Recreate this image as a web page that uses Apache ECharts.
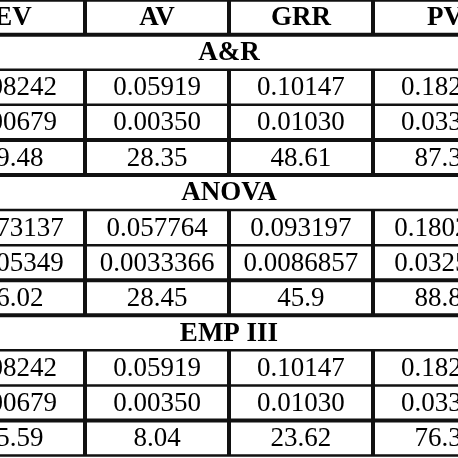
<!DOCTYPE html>
<html><head><meta charset="utf-8">
<script src="https://cdn.jsdelivr.net/npm/echarts@6/dist/echarts.min.js"></script>
<style>html,body{margin:0;padding:0;background:#fff}#c{width:458px;height:458px}</style>
</head><body><div id="c"></div>
<script>
// table contents
var headers = ['EV', 'AV', 'GRR', 'PV'];
var sections = ['A&R', 'ANOVA', 'EMP III'];
var arRows = [
    ['0.08242', '0.05919', '0.10147', '0.18257'],
    ['0.00679', '0.00350', '0.01030', '0.03356'],
    ['49.48', '28.35', '48.61', '87.38']
];
var anovaRows = [
    ['0.073137', '0.057764', '0.093197', '0.180215'],
    ['0.005349', '0.0033366', '0.0086857', '0.032512'],
    ['46.02', '28.45', '45.9', '88.80']
];
var empRows = [
    ['0.08242', '0.05919', '0.10147', '0.18257'],
    ['0.00679', '0.00350', '0.01030', '0.03356'],
    ['65.59', '8.04', '23.62', '76.38']
];
// row boundaries (between rows) and whether the rule is heavy
var hRules = [-0.5, 0.5, 1.5, 2.5, 3.5, 4.5, 5.5, 6.5, 7.5, 8.5, 9.5, 10.5, 11.5, 12.5];
var heavyRules = [-0.5, 0.5, 3.5, 4.5, 7.5, 8.5, 11.5];

// build cell list: [col, row, text, bold]
var cells = [];
var row = 0;
headers.forEach(function (h, c) { cells.push([c, row, h, 1]); });
[arRows, anovaRows, empRows].forEach(function (block, s) {
    row++;
    cells.push([1.5, row, sections[s], 1]);
    block.forEach(function (r) {
        row++;
        r.forEach(function (v, c) { cells.push([c, row, v, 0]); });
    });
});
// vertical rule segments: [x, rowStart, rowEnd]
var vRules = [];
[0.5, 1.5, 2.5].forEach(function (x) {
    vRules.push([x, -0.5, 0.5]);
    [1, 5, 9].forEach(function (s) { vRules.push([x, s + 0.5, s + 3.5]); });
});

var myChart = echarts.init(document.getElementById('c'));
var option = {
    backgroundColor: '#fff',
    animation: false,
    grid: { left: 0, right: 0, top: 0, bottom: 0 },
    xAxis: { type: 'value', min: -0.0903, max: 3.0903, show: false },
    yAxis: { type: 'value', inverse: true, min: -0.49, max: 12.57, show: false },
    series: [{
        type: 'custom',
        data: hRules.map(function (y) { return [y, heavyRules.indexOf(y) >= 0 ? 1 : 0]; }),
        renderItem: function (params, api) {
            var p0 = api.coord([0, api.value(0)]);
            var w = api.value(1) ? 4 : 2.5;
            return { type: 'rect', shape: { x: 0, y: p0[1] - w / 2, width: 458, height: w }, style: { fill: '#111' } };
        }
    }, {
        type: 'custom',
        data: vRules,
        renderItem: function (params, api) {
            var a = api.coord([api.value(0), api.value(1)]);
            var b = api.coord([api.value(0), api.value(2)]);
            return { type: 'rect', shape: { x: a[0] - 2, y: a[1], width: 4, height: b[1] - a[1] }, style: { fill: '#111' } };
        }
    }, {
        type: 'custom',
        data: cells,
        renderItem: function (params, api) {
            var p = api.coord([api.value(0), api.value(1)]);
            return {
                type: 'text', x: p[0], y: p[1] + 1,
                style: {
                    text: cells[params.dataIndex][2], fill: '#000',
                    font: (api.value(3) ? 'bold ' : '') + '27px "Liberation Serif"',
                    align: 'center', verticalAlign: 'middle'
                }
            };
        }
    }]
};
myChart.setOption(option);
</script>
</body></html>
